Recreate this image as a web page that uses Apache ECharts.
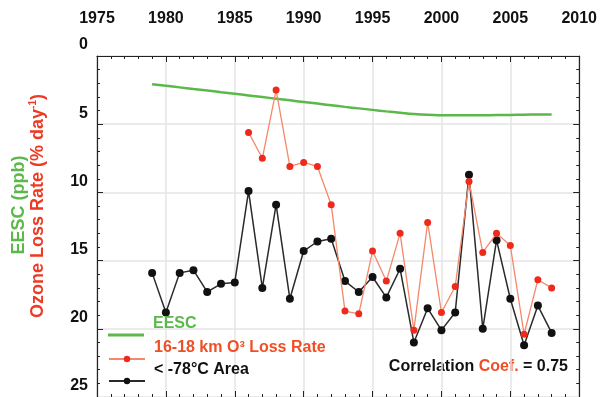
<!DOCTYPE html>
<html>
<head>
	<meta charset="utf-8" />
	<title>EESC vs ozone loss rate</title>
	<style>
		* { margin: 0; padding: 0; }
		body { background: #fff; }
		#main { width: 600px; height: 397px; }
	</style>
</head>
<body>
	<div id="main"></div>
	<script src="https://cdn.jsdelivr.net/npm/echarts@6/dist/echarts.min.js"></script>
	<script type="text/javascript">
		// 數據 (讀自圖片)
		var years = [1979, 1980, 1981, 1982, 1983, 1984, 1985, 1986, 1987, 1988,
			1989, 1990, 1991, 1992, 1993, 1994, 1995, 1996, 1997, 1998,
			1999, 2000, 2001, 2002, 2003, 2004, 2005, 2006, 2007, 2008];
		var eesc = [2.07, 2.18, 2.3, 2.42, 2.53, 2.65, 2.77, 2.89, 3.01, 3.13,
			3.25, 3.37, 3.49, 3.61, 3.73, 3.84, 3.95, 4.06, 4.16, 4.25,
			4.31, 4.34, 4.35, 4.35, 4.34, 4.33, 4.32, 4.3, 4.29, 4.28];
		var lossRate = [null, null, null, null, null, null, null, 5.6, 7.5, 2.5,
			8.1, 7.8, 8.1, 10.9, 18.7, 18.9, 14.3, 16.5, 13.0, 20.1,
			12.2, 18.8, 16.9, 9.2, 14.4, 13.0, 13.9, 20.4, 16.4, 17.0];
		var coldArea = [15.9, 18.8, 15.9, 15.7, 17.3, 16.7, 16.6, 9.9, 17.0, 10.9,
			17.8, 14.3, 13.6, 13.4, 16.5, 17.3, 16.2, 17.7, 15.6, 21.0,
			18.5, 20.1, 18.8, 8.7, 20.0, 13.5, 17.8, 21.2, 18.3, 20.3];
		var yearTicks = [1975, 1980, 1985, 1990, 1995, 2000, 2005, 2010];

		var GREEN = '#5cb84a';
		var RED = '#ee3a22';
		var FONT = 'Liberation Sans';

		function pairs(vals) {
			var out = [];
			for (var i = 0; i < years.length; i++) {
				if (vals[i] !== null) out.push([years[i], vals[i]]);
			}
			return out;
		}

		var chart = echarts.init(document.getElementById('main'));

		var xBase = {
			type: 'value',
			min: yearTicks[0],
			max: yearTicks[yearTicks.length - 1],
			interval: 5,
			axisLine: { show: true, onZero: false, lineStyle: { color: '#222', width: 1.2 } },
			axisTick: { show: true, inside: true, length: 6, lineStyle: { color: '#222' } },
			minorTick: { show: true, splitNumber: 5, length: 3, lineStyle: { color: '#222' } },
			splitLine: { show: false }
		};
		var yBase = {
			type: 'value',
			inverse: true,
			min: 0,
			max: 25,
			interval: 5,
			axisLine: { show: true, onZero: false, lineStyle: { color: '#222', width: 1.2 } },
			axisTick: { show: true, inside: true, length: 6, lineStyle: { color: '#222' } },
			minorTick: { show: true, splitNumber: 5, length: 3, lineStyle: { color: '#222' } },
			splitLine: { show: false }
		};

		// 圖例: 文字在線段右上方
		function legendBox(name, top, color, lineOnly) {
			return {
				left: 103,
				top: top,
				orient: 'vertical',
				itemWidth: 36,
				itemHeight: lineOnly ? 3 : 8,
				icon: lineOnly ? 'rect' : undefined,
				data: [{ name: name }],
				formatter: function (n) { return '{t|' + n + '}'; },
				textStyle: {
					rich: {
						t: {
							color: color, fontFamily: FONT, fontWeight: 'bold', fontSize: 16,
							padding: [0, 0, 22, 4]
						}
					}
				},
				selectedMode: false
			};
		}

		var option = {
			animation: false,
			grid: { left: 97, right: 18, top: 56, bottom: 0 },
			xAxis: [
				Object.assign({}, xBase, {
					position: 'top',
					axisLabel: {
						show: true, margin: 29, color: '#111',
						fontFamily: FONT, fontWeight: 'bold', fontSize: 16,
						formatter: function (v) { return String(v); }
					},
					splitLine: { show: true, lineStyle: { color: '#e4e4e4', width: 1.5 } }
				}),
				Object.assign({}, xBase, {
					position: 'bottom',
					axisLabel: { show: false }
				})
			],
			yAxis: [
				Object.assign({}, yBase, {
					position: 'left',
					axisLabel: {
						show: true, margin: 9, color: '#111',
						fontFamily: FONT, fontWeight: 'bold', fontSize: 16,
						verticalAlign: 'bottom', padding: [0, 0, 3, 0]
					},
					splitLine: { show: true, lineStyle: { color: '#e4e4e4', width: 1.5 } }
				}),
				Object.assign({}, yBase, {
					position: 'right',
					axisLabel: { show: false }
				})
			],
			legend: [
				legendBox('EESC', 311, GREEN, true),
				legendBox('16-18 km O³ Loss Rate', 335, '#f04f26', false),
				legendBox('< -78°C Area', 357, '#111', false)
			],
			graphic: [
				{
					type: 'text', x: 19, y: 205, rotation: Math.PI / 2,
					style: {
						text: 'EESC (ppb)', fill: GREEN,
						font: 'bold 18px "Liberation Sans"',
						align: 'center', verticalAlign: 'middle'
					}
				},
				{
					type: 'text', x: 38, y: 206, rotation: Math.PI / 2,
					style: {
						text: '{a|Ozone Loss Rate (% day}{s|-1}{a|)}',
						align: 'center', verticalAlign: 'middle',
						rich: {
							a: { fill: RED, fontFamily: FONT, fontWeight: 'bold', fontSize: 18, lineHeight: 20 },
							s: { fill: RED, fontFamily: FONT, fontWeight: 'bold', fontSize: 10, lineHeight: 20, verticalAlign: 'top' }
						}
					}
				},
				{
					type: 'text', x: 568, y: 367,
					style: {
						text: '{k|Correlation }{r|Coef.}{k| = 0.75}',
						align: 'right', verticalAlign: 'middle',
						rich: {
							k: { fill: '#111', fontFamily: FONT, fontWeight: 'bold', fontSize: 16 },
							r: { fill: '#f04f26', fontFamily: FONT, fontWeight: 'bold', fontSize: 16 }
						}
					}
				}
			],
			series: [
				{
					name: 'EESC',
					type: 'line',
					data: pairs(eesc),
					smooth: true,
					showSymbol: false,
					symbol: 'none',
					lineStyle: { color: GREEN, width: 2.5 },
					itemStyle: { color: GREEN },
					z: 2
				},
				{
					name: '< -78°C Area',
					type: 'line',
					data: pairs(coldArea),
					symbol: 'circle',
					symbolSize: 8,
					lineStyle: { color: '#2a2a2a', width: 1.5 },
					itemStyle: { color: '#111' },
					z: 3
				},
				{
					name: '16-18 km O³ Loss Rate',
					type: 'line',
					data: pairs(lossRate),
					symbol: 'circle',
					symbolSize: 7,
					lineStyle: { color: '#f5886a', width: 1.3 },
					itemStyle: { color: '#ee2a1d' },
					z: 4
				}
			]
		};

		chart.setOption(option);
	</script>
</body>
</html>
